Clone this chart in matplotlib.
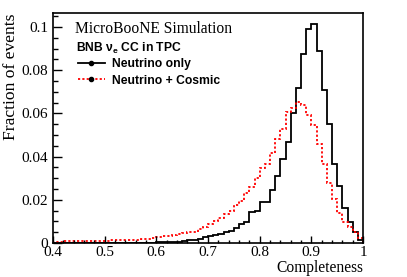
import numpy as np
import matplotlib
matplotlib.use("Agg")
import matplotlib.pyplot as plt
from matplotlib.lines import Line2D
from matplotlib.ticker import FixedLocator, MultipleLocator

# ---- data (fraction of events per 0.01 completeness bin, 0.40 -> 1.00) ----
bin_low = 0.40
bin_high = 1.00
bin_width = 0.01

neutrino_only = [
    0.0001, 0.0001, 0.0001, 0.0001, 0.0001, 0.0001, 0.0001, 0.0001, 0.0001, 0.0001,  # 0.40-0.50
    0.0001, 0.0001, 0.0002, 0.0002, 0.0002, 0.0002, 0.0002, 0.0002, 0.0002, 0.0002,  # 0.50-0.60
    0.0003, 0.0003, 0.0003, 0.0006, 0.0006, 0.0010, 0.0014, 0.0014, 0.0020, 0.0030,  # 0.60-0.70
    0.0032, 0.0037, 0.0042, 0.0050, 0.0056, 0.0068, 0.0090, 0.0099, 0.0145, 0.0150,  # 0.70-0.80
    0.0188, 0.0190, 0.0245, 0.0310, 0.0387, 0.0466, 0.0603, 0.0716, 0.0875, 0.0992,  # 0.80-0.90
    0.1012, 0.0890, 0.0709, 0.0550, 0.0365, 0.0265, 0.0160, 0.0097, 0.0050, 0.0015,  # 0.90-1.00
]

neutrino_cosmic = [
    0.0006, 0.0006, 0.0007, 0.0007, 0.0008, 0.0008, 0.0009, 0.0009, 0.0010, 0.0010,  # 0.40-0.50
    0.0011, 0.0012, 0.0012, 0.0013, 0.0014, 0.0015, 0.0016, 0.0018, 0.0020, 0.0022,  # 0.50-0.60
    0.0030, 0.0032, 0.0034, 0.0038, 0.0040, 0.0045, 0.0050, 0.0053, 0.0065, 0.0075,  # 0.60-0.70
    0.0089, 0.0102, 0.0117, 0.0133, 0.0148, 0.0176, 0.0194, 0.0230, 0.0260, 0.0300,  # 0.70-0.80
    0.0346, 0.0364, 0.0415, 0.0480, 0.0528, 0.0608, 0.0623, 0.0651, 0.0639, 0.0593,  # 0.80-0.90
    0.0545, 0.0460, 0.0364, 0.0280, 0.0204, 0.0137, 0.0099, 0.0075, 0.0050, 0.0022,  # 0.90-1.00
]

x_ticks = [0.4, 0.5, 0.6, 0.7, 0.8, 0.9, 1.0]
x_tick_labels = ["0.4", "0.5", "0.6", "0.7", "0.8", "0.9", "1"]
y_ticks = [0.0, 0.02, 0.04, 0.06, 0.08, 0.1]
y_tick_labels = ["0", "0.02", "0.04", "0.06", "0.08", "0.1"]

series_labels = ["Neutrino only", "Neutrino + Cosmic"]
header = "BNB ν$_{\\mathregular{e}}$ CC in TPC"
tag = "MicroBooNE Simulation"

# ---- figure ----
serif = ["Liberation Serif", "DejaVu Serif"]
sans = ["Liberation Sans", "DejaVu Sans"]

fig = plt.figure(figsize=(4.07, 2.77), dpi=100)
ax = fig.add_axes([53 / 407, 1 - 243 / 277, 310 / 407, 230 / 277])

edges = np.round(bin_low + bin_width * np.arange(len(neutrino_only) + 1), 2)

ax.stairs(neutrino_only, edges, color="black", linewidth=1.3, baseline=0)
ax.stairs(neutrino_cosmic, edges, color="#ff0000", linewidth=1.3,
          linestyle=(0, (1.2, 1.2)), baseline=0)

ax.set_xlim(bin_low, bin_high)
ax.set_ylim(0, 0.1065)

for s in ax.spines.values():
    s.set_linewidth(1.2)

ax.xaxis.set_major_locator(FixedLocator(x_ticks))
ax.set_xticklabels(x_tick_labels)
ax.xaxis.set_minor_locator(MultipleLocator(0.02))
ax.yaxis.set_major_locator(FixedLocator(y_ticks))
ax.set_yticklabels(y_tick_labels)
ax.yaxis.set_minor_locator(MultipleLocator(0.005))

ax.tick_params(axis="both", which="both", direction="in", top=False, right=False,
               width=1.0)
ax.tick_params(axis="x", which="major", length=5, pad=2.5)
ax.tick_params(axis="x", which="minor", length=2.5)
ax.tick_params(axis="y", which="major", length=6.5, pad=3.5)
ax.tick_params(axis="y", which="minor", length=3.3)
for lab in ax.get_xticklabels() + ax.get_yticklabels():
    lab.set_family(serif)
    lab.set_fontsize(11)

ax.set_xlabel("Completeness", family=serif, fontsize=11.2, loc="right")
ax.xaxis.set_label_coords(1.0, -0.072)
ax.set_ylabel("Fraction of events", family=serif, fontsize=12.6, loc="top")
ax.yaxis.set_label_coords(-0.11, 1.0)

ax.text((75 - 53) / 310, (243 - 33) / 230, tag, transform=ax.transAxes,
        family=serif, fontsize=11.2, va="baseline", ha="left")
ax.text((76 - 53) / 310, (243 - 48) / 230, header, transform=ax.transAxes,
        family=sans, fontweight="bold", fontsize=8.7, va="center", ha="left")

handles = [
    Line2D([], [], color="black", linewidth=1.3, marker="o", markersize=3,
           markerfacecolor="black", markeredgecolor="black"),
    Line2D([], [], color="#ff0000", linewidth=1.3, linestyle=(0, (1.2, 1.2)),
           marker="o", markersize=3, markerfacecolor="black", markeredgecolor="black"),
]
leg = ax.legend(handles, series_labels, loc="upper left",
                bbox_to_anchor=((78 - 53) / 310, (243 - 58) / 230),
                frameon=False, borderpad=0, borderaxespad=0,
                handlelength=2.2, handletextpad=0.65, labelspacing=0.38,
                prop={"family": sans, "weight": "bold", "size": 8.7})

fig.savefig("out.png", dpi=100)
